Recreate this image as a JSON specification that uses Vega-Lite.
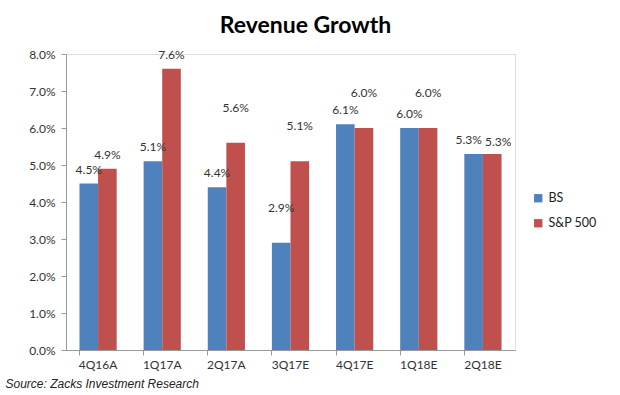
{
  "$schema": "https://vega.github.io/schema/vega-lite/v6.json",
  "width": 449,
  "height": 296,
  "autosize": {"type": "none"},
  "padding": {"left": 66, "top": 54, "right": 105, "bottom": 45},
  "background": "white",
  "title": {"text": "Revenue Growth", "font": "Lato", "fontSize": 23, "fontWeight": "bold", "color": "#000000", "anchor": "middle", "dx": 15, "offset": 10},
  "data": {
    "values": [
      {"quarter": "4Q16A", "series": "BS", "value": 0.045},
      {"quarter": "4Q16A", "series": "S&P 500", "value": 0.049},
      {"quarter": "1Q17A", "series": "BS", "value": 0.051},
      {"quarter": "1Q17A", "series": "S&P 500", "value": 0.076},
      {"quarter": "2Q17A", "series": "BS", "value": 0.044},
      {"quarter": "2Q17A", "series": "S&P 500", "value": 0.056},
      {"quarter": "3Q17E", "series": "BS", "value": 0.029},
      {"quarter": "3Q17E", "series": "S&P 500", "value": 0.051},
      {"quarter": "4Q17E", "series": "BS", "value": 0.061},
      {"quarter": "4Q17E", "series": "S&P 500", "value": 0.060},
      {"quarter": "1Q18E", "series": "BS", "value": 0.060},
      {"quarter": "1Q18E", "series": "S&P 500", "value": 0.060},
      {"quarter": "2Q18E", "series": "BS", "value": 0.053},
      {"quarter": "2Q18E", "series": "S&P 500", "value": 0.053}
    ]
  },
  "encoding": {
    "x": {
      "field": "quarter",
      "type": "nominal",
      "sort": ["4Q16A", "1Q17A", "2Q17A", "3Q17E", "4Q17E", "1Q18E", "2Q18E"],
      "scale": {"paddingInner": 0.42, "paddingOuter": 0.21},
      "axis": {
        "title": "Source: Zacks Investment Research",
        "titleFont": "Liberation Sans",
        "titleFontStyle": "italic",
        "titleFontWeight": "normal",
        "titleFontSize": 12,
        "titleColor": "#222222",
        "titleAnchor": "start",
        "titleAlign": "left",
        "titleBaseline": "middle",
        "titleX": -61,
        "titleY": 33,
        "labelAngle": 0,
        "labelFont": "Lato",
        "labelFontSize": 12,
        "labelColor": "#333333",
        "labelPadding": 4,
        "bandPosition": 0,
        "domainColor": "#999999",
        "tickColor": "#999999",
        "tickSize": 5
      }
    },
    "xOffset": {"field": "series", "type": "nominal", "sort": ["BS", "S&P 500"]},
    "y": {
      "field": "value",
      "type": "quantitative",
      "scale": {"domain": [0, 0.08], "nice": false},
      "axis": {
        "title": null,
        "format": ".1%",
        "values": [0, 0.01, 0.02, 0.03, 0.04, 0.05, 0.06, 0.07, 0.08],
        "grid": false,
        "labelFont": "Lato",
        "labelFontSize": 12,
        "labelColor": "#333333",
        "labelPadding": 6,
        "domainColor": "#999999",
        "tickColor": "#999999",
        "tickSize": 5
      }
    }
  },
  "layer": [
    {
      "mark": {"type": "bar"},
      "encoding": {
        "color": {
          "field": "series",
          "type": "nominal",
          "sort": ["BS", "S&P 500"],
          "scale": {"domain": ["BS", "S&P 500"], "range": ["#4F81BD", "#C0504D"]},
          "legend": {
            "title": null,
            "orient": "none",
            "legendX": 466,
            "legendY": 138,
            "symbolType": "square",
            "symbolSize": 70,
            "symbolStrokeWidth": 0,
            "labelFont": "Lato",
            "labelFontSize": 12.5,
            "labelColor": "#222222",
            "rowPadding": 12
          }
        }
      }
    },
    {
      "transform": [
        {"filter": "datum.quarter !== '2Q18E' && !((datum.series === 'S&P 500' && indexof(['2Q17A','3Q17E','4Q17E','1Q18E'], datum.quarter) >= 0) || (datum.series === 'BS' && datum.quarter === '3Q17E'))"}
      ],
      "mark": {"type": "text", "baseline": "bottom", "dy": -7, "font": "Lato", "fontSize": 12, "color": "#333333"},
      "encoding": {
        "text": {"field": "value", "type": "quantitative", "format": ".1%"}
      }
    },
    {
      "transform": [
        {"filter": "(datum.series === 'S&P 500' && indexof(['2Q17A','3Q17E','4Q17E','1Q18E'], datum.quarter) >= 0) || (datum.series === 'BS' && datum.quarter === '3Q17E')"}
      ],
      "mark": {"type": "text", "baseline": "bottom", "dy": -28, "font": "Lato", "fontSize": 12, "color": "#333333"},
      "encoding": {
        "text": {"field": "value", "type": "quantitative", "format": ".1%"}
      }
    },
    {
      "transform": [
        {"filter": "datum.quarter === '2Q18E' && datum.series === 'BS'"}
      ],
      "mark": {"type": "text", "baseline": "bottom", "dy": -7, "dx": -5, "font": "Lato", "fontSize": 12, "color": "#333333"},
      "encoding": {
        "text": {"field": "value", "type": "quantitative", "format": ".1%"}
      }
    },
    {
      "transform": [
        {"filter": "datum.quarter === '2Q18E' && datum.series === 'S&P 500'"}
      ],
      "mark": {"type": "text", "baseline": "bottom", "dy": -5, "dx": 6, "font": "Lato", "fontSize": 12, "color": "#333333"},
      "encoding": {
        "text": {"field": "value", "type": "quantitative", "format": ".1%"}
      }
    }
  ]
}
